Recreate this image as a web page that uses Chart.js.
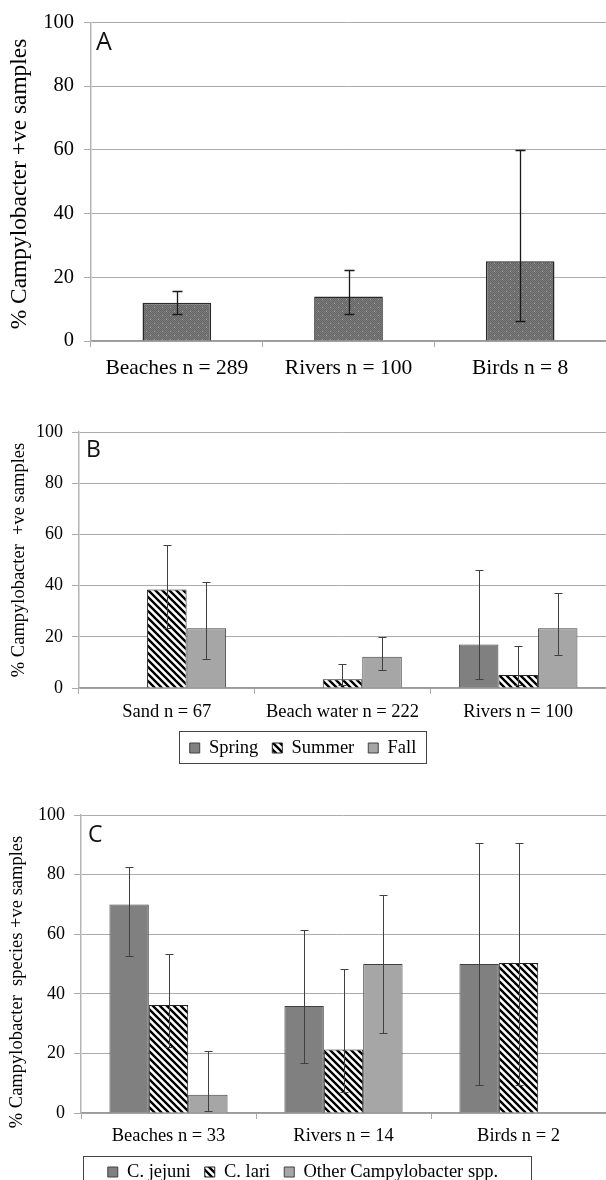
<!DOCTYPE html>
<html>
<head>
<meta charset="utf-8">
<script src="https://cdn.jsdelivr.net/npm/chart.js@4.4.1/dist/chart.umd.min.js"></script>
<style>
  body { margin: 0; background: #fff; overflow: hidden; }
  .panel { position: absolute; left: 0; width: 606px; }
  #panelA { top: 0; height: 395px; }
  #panelB { top: 400px; height: 370px; }
  #panelC { top: 790px; height: 405px; }
</style>
</head>
<body>
<div class="panel" id="panelA"><canvas id="chartA"></canvas></div>
<div class="panel" id="panelB"><canvas id="chartB"></canvas></div>
<div class="panel" id="panelC"><canvas id="chartC"></canvas></div>
<script>
// panel A - all samples
const catsA = ['Beaches n = 289', 'Rivers n = 100', 'Birds n = 8'];
const pctA = [12, 14, 25];
const lowA = [8.5, 8.5, 6.4];
const highA = [15.7, 22.3, 60];

// panel B - by season
const catsB = ['Sand n = 67', 'Beach water n = 222', 'Rivers n = 100'];
const seasons = ['Spring', 'Summer', 'Fall'];
const springB = [0, 0, 17];
const springLowB = [null, null, 3.6];
const springHighB = [null, null, 46.2];
const summerB = [38.5, 3.4, 5.1];
const summerLowB = [23.4, 1, 1];
const summerHighB = [56, 9.3, 16.3];
const fallB = [23.3, 12.2, 23.3];
const fallLowB = [11.5, 7, 12.9];
const fallHighB = [41.4, 19.9, 37.3];

// panel C - by species
const catsC = ['Beaches n = 33', 'Rivers n = 14', 'Birds n = 2'];
const species = ['C. jejuni', 'C. lari', 'Other Campylobacter spp.'];
const jejuniC = [70, 35.9, 50];
const jejuniLowC = [52.6, 16.8, 9.5];
const jejuniHighC = [82.7, 61.5, 90.6];
const lariC = [36.2, 21.3, 50.3];
const lariLowC = [22, 7, 9.5];
const lariHighC = [53.4, 48.3, 90.6];
const otherC = [6.1, 50, 0];
const otherLowC = [0.6, 26.8, null];
const otherHighC = [20.8, 73.3, null];

const serif = '"Liberation Serif", "Times New Roman", serif';

function stripes() {
    const c = document.createElement('canvas');
    c.width = c.height = 7;
    const g = c.getContext('2d');
    g.fillStyle = '#fff';
    g.fillRect(0, 0, 7, 7);
    g.strokeStyle = '#000';
    g.lineWidth = 2.4;
    g.beginPath();
    g.moveTo(-1, -1); g.lineTo(8, 8);
    g.moveTo(-4, 3); g.lineTo(4, 11);
    g.moveTo(3, -4); g.lineTo(11, 4);
    g.stroke();
    return g.createPattern(c, 'repeat');
}

function stipple() {
    const c = document.createElement('canvas');
    c.width = c.height = 8;
    const g = c.getContext('2d');
    g.fillStyle = '#7a7a7a';
    g.fillRect(0, 0, 8, 8);
    g.fillStyle = '#666';
    for (let i = 0; i < 8; i++)
        for (let j = 0; j < 8; j++)
            if ((i + j) % 2 === 0) g.fillRect(i, j, 1, 1);
    g.fillStyle = '#a8a8a8';
    g.fillRect(2, 3, 1, 1);
    g.fillRect(6, 7, 1, 1);
    return g.createPattern(c, 'repeat');
}

const errorBars = {
    id: 'errorBars',
    afterDatasetsDraw(chart, args, opts) {
        const ctx = chart.ctx;
        const y = chart.scales.y;
        ctx.save();
        ctx.strokeStyle = opts.color;
        ctx.lineWidth = opts.width;
        chart.data.datasets.forEach((ds, i) => {
            chart.getDatasetMeta(i).data.forEach((bar, j) => {
                if (ds.errLow[j] == null) return;
                const t = Math.round(y.getPixelForValue(ds.errHigh[j])) + 0.5;
                const b = Math.round(y.getPixelForValue(ds.errLow[j])) + 0.5;
                const x = Math.round(bar.x) + 0.5;
                ctx.beginPath();
                ctx.moveTo(x, t); ctx.lineTo(x, b);
                ctx.moveTo(x - opts.cap, t); ctx.lineTo(x + opts.cap, t);
                ctx.moveTo(x - opts.cap, b); ctx.lineTo(x + opts.cap, b);
                ctx.stroke();
            });
        });
        ctx.restore();
    }
};

const decorations = {
    id: 'decorations',
    afterDraw(chart, args, opts) {
        const ctx = chart.ctx;
        ctx.save();
        // rotated y title
        ctx.translate(opts.titleX, opts.titleY);
        ctx.rotate(-Math.PI / 2);
        ctx.fillStyle = '#000';
        ctx.font = opts.titleSize + 'px ' + serif;
        ctx.textAlign = 'center';
        ctx.textBaseline = 'middle';
        ctx.fillText(opts.title, 0, 0);
        ctx.restore();
        // panel letter
        ctx.save();
        ctx.fillStyle = '#111';
        ctx.font = opts.letterSize + 'px "Open Sans", sans-serif';
        ctx.textBaseline = 'alphabetic';
        ctx.fillText(opts.letter, opts.letterX, opts.letterY);
        ctx.restore();
        // frame round the legend
        const lg = chart.legend;
        if (opts.legendBox && lg && lg.legendHitBoxes.length) {
            const hb = lg.legendHitBoxes;
            const l = Math.min(...hb.map(h => h.left)) - opts.legendBox[0];
            const r = Math.max(...hb.map(h => h.left + h.width)) + opts.legendBox[1];
            const t = hb[0].top - opts.legendBox[2];
            const b = hb[0].top + hb[0].height + opts.legendBox[3];
            ctx.save();
            ctx.strokeStyle = '#444';
            ctx.lineWidth = 1;
            ctx.strokeRect(Math.round(l) + 0.5, Math.round(t) + 0.5, Math.round(r - l), Math.round(b - t));
            ctx.restore();
        }
    }
};

function scales(o) {
    return {
        x: {
            ticks: { padding: o.xPad, color: '#000', font: { family: serif, size: o.xFont } },
            grid: { offset: true, drawOnChartArea: false, tickLength: 6, color: '#aaa' },
            border: { color: '#9a9a9a', width: 1.5 },
            afterFit: s => { s.height = o.xHeight; }
        },
        y: {
            min: 0,
            max: 100,
            ticks: { stepSize: 20, padding: o.yPad, color: '#000', font: { family: serif, size: o.yFont } },
            grid: { color: '#ababab', tickLength: 7 },
            border: { color: '#b4b4b4', width: 1.5 },
            afterFit: s => { s.width = o.yWidth; }
        }
    };
}

new Chart(document.getElementById('chartA'), {
    type: 'bar',
    data: {
        labels: catsA,
        datasets: [{
            label: 'All',
            data: pctA,
            errLow: lowA,
            errHigh: highA,
            backgroundColor: stipple(),
            borderColor: '#2a2a2a',
            borderWidth: 1.5,
            categoryPercentage: 0.4,
            barPercentage: 1
        }]
    },
    options: {
        responsive: true,
        maintainAspectRatio: false,
        animation: false,
        layout: { padding: { top: 22, left: 0, right: 0, bottom: 0 } },
        scales: scales({ xPad: 8, xFont: 21.5, xHeight: 54, yPad: 10, yFont: 20.5, yWidth: 91 }),
        plugins: {
            legend: { display: false },
            tooltip: { enabled: false },
            errorBars: { color: '#1a1a1a', width: 1.3, cap: 5 },
            decorations: {
                title: '% Campylobacter +ve samples', titleX: 20, titleY: 184, titleSize: 23.4,
                letter: 'A', letterX: 96, letterY: 50, letterSize: 25
            }
        }
    },
    plugins: [errorBars, decorations]
});

const legendLabels = pad => ({
    boxWidth: 10,
    boxHeight: 10,
    padding: pad,
    color: '#000',
    font: { family: serif, size: 18.5 }
});

new Chart(document.getElementById('chartB'), {
    type: 'bar',
    data: {
        labels: catsB,
        datasets: [
            { label: seasons[0], data: springB, errLow: springLowB, errHigh: springHighB,
              backgroundColor: '#808080', borderColor: '#404040', borderWidth: 1 },
            { label: seasons[1], data: summerB, errLow: summerLowB, errHigh: summerHighB,
              backgroundColor: stripes(), borderColor: '#222', borderWidth: 1 },
            { label: seasons[2], data: fallB, errLow: fallLowB, errHigh: fallHighB,
              backgroundColor: '#a6a6a6', borderColor: '#404040', borderWidth: 1 }
        ]
    },
    options: {
        responsive: true,
        maintainAspectRatio: false,
        animation: false,
        datasets: { bar: { categoryPercentage: 0.675, barPercentage: 1 } },
        layout: { padding: { top: 32, left: 0, right: 0, bottom: 2.75 } },
        scales: scales({ xPad: 7, xFont: 18.5, xHeight: 36.75, yPad: 9, yFont: 18, yWidth: 79 }),
        plugins: {
            legend: { position: 'bottom', labels: legendLabels(14) },
            tooltip: { enabled: false },
            errorBars: { color: '#404040', width: 1, cap: 4 },
            decorations: {
                title: '% Campylobacter  +ve samples', titleX: 19, titleY: 160, titleSize: 18.5,
                letter: 'B', letterX: 86, letterY: 57, letterSize: 23,
                legendBox: [11, 9, 8, 5]
            }
        }
    },
    plugins: [errorBars, decorations]
});

new Chart(document.getElementById('chartC'), {
    type: 'bar',
    data: {
        labels: catsC,
        datasets: [
            { label: species[0], data: jejuniC, errLow: jejuniLowC, errHigh: jejuniHighC,
              backgroundColor: '#808080', borderColor: '#404040', borderWidth: 1 },
            { label: species[1], data: lariC, errLow: lariLowC, errHigh: lariHighC,
              backgroundColor: stripes(), borderColor: '#222', borderWidth: 1 },
            { label: species[2], data: otherC, errLow: otherLowC, errHigh: otherHighC,
              backgroundColor: '#a6a6a6', borderColor: '#404040', borderWidth: 1 }
        ]
    },
    options: {
        responsive: true,
        maintainAspectRatio: false,
        animation: false,
        datasets: { bar: { categoryPercentage: 0.675, barPercentage: 1 } },
        layout: { padding: { top: 25, left: 0, right: 0, bottom: 3.75 } },
        scales: scales({ xPad: 6, xFont: 18.5, xHeight: 35.75, yPad: 9, yFont: 18, yWidth: 81 }),
        plugins: {
            legend: { position: 'bottom', labels: legendLabels(14) },
            tooltip: { enabled: false },
            errorBars: { color: '#404040', width: 1, cap: 4 },
            decorations: {
                title: '% Campylobacter  species +ve samples', titleX: 17, titleY: 192, titleSize: 18.5,
                letter: 'C', letterX: 88, letterY: 52, letterSize: 23,
                legendBox: [25, 33, 7, 8]
            }
        }
    },
    plugins: [errorBars, decorations]
});
</script>
</body>
</html>
